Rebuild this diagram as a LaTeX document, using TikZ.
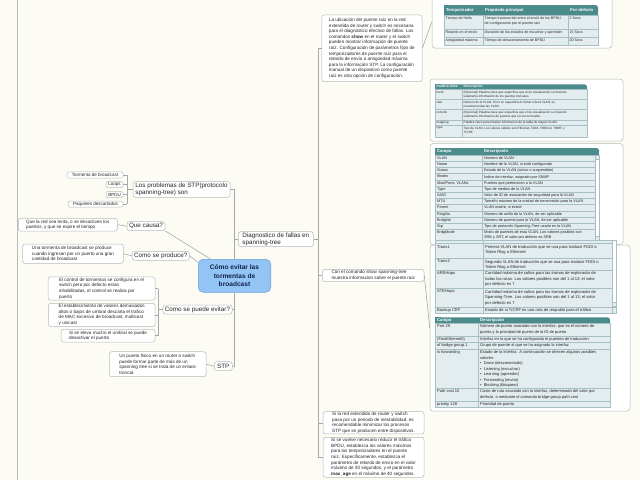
\documentclass[tikz,border=0pt]{standalone}
\usepackage{fontspec}
\setmainfont{Liberation Sans}
\newcommand\myfs[2]{\fontsize{#1}{#2}\selectfont}
\definecolor{bgc}{HTML}{FCFCF4}
\definecolor{lnkc}{HTML}{A8A8A8}
\definecolor{bordc}{HTML}{B8B8B8}
\definecolor{cenfill}{HTML}{92C5F5}
\definecolor{cenbord}{HTML}{6FA2D6}
\definecolor{cenText}{HTML}{10204A}
\definecolor{thead}{HTML}{4C8B8C}
\definecolor{trowc}{HTML}{E3ECEE}
\definecolor{tlinec}{HTML}{A7BFC2}
\definecolor{txt}{HTML}{262626}
\begin{document}
\begin{tikzpicture}[x=1pt,y=-1pt,
  topic/.style={draw=bordc, fill=white, rounded corners=2.5pt, line width=0.5pt, inner xsep=2pt, inner ysep=0pt, align=left, text=txt, font=\myfs{6.3}{7.3}},
  note/.style={topic, font=\myfs{4.6}{5.6}},
  leaf/.style={draw=bordc, fill=white, rounded corners=1.5pt, line width=0.5pt, inner sep=0pt, align=center, text=txt, font=\myfs{4.5}{5}},
  lnk/.style={draw=lnkc, line width=0.6pt},
  central/.style={draw=cenbord, fill=cenfill, rounded corners=5pt, line width=0.6pt, align=center, text=cenText, font=\myfs{6.6}{8.3}\bfseries, inner sep=0pt},
  cell/.style={anchor=north west, inner sep=0pt, align=left, text=txt},
  hcell/.style={anchor=west, inner sep=0pt, text=white},
  frame/.style={draw=bordc, fill=white, rounded corners=3pt, line width=0.5pt, inner sep=0pt},
  tl/.style={draw=tlinec, line width=0.4pt},
]
\useasboundingbox (0,0) rectangle (640,480);
\fill[bgc] (0,0) rectangle (640,480);
\draw[bordc, line width=0.6pt] (17,0) -- (17,480);

% ---------------- central
\node[central, minimum width=72.4pt, minimum height=33pt] (cen) at (234.5,275.8) {Cómo evitar las\\tormentas de\\broadcast};

% ---------------- left side
\node[topic, minimum width=97pt, minimum height=15.6pt] (prob) at (181.5,189.5) {Los problemas de STP(protocolo\\spanning-tree) son};
\node[leaf, minimum width=56pt, minimum height=6.2pt] (tb) at (95,175) {Tormenta de broadcast};
\node[leaf, minimum width=17pt, minimum height=6pt] (loops) at (114.5,184.5) {Loops};
\node[leaf, minimum width=17pt, minimum height=6pt] (bpdu) at (114.5,194.5) {BPDU};
\node[leaf, minimum width=55pt, minimum height=6pt] (paq) at (95.5,204) {Paquetes descartados};
\coordinate (bkA) at (127,189.5);
\draw[lnk] (prob.west) -- (bkA);
\foreach \n in {tb,loops,bpdu,paq} \draw[lnk] (\n.east) -- (bkA |- \n.east);
\draw[lnk] (bkA |- tb.east) -- (bkA |- paq.east);
\draw[lnk] (cen.north) |- (prob.east);

\node[topic, minimum width=38pt, minimum height=9pt] (causa) at (146,226.2) {Que causa?};
\node[note, minimum width=99pt, minimum height=12.7pt] (causaT) at (67.8,224.7) {Que la red sea lenta, o se desactiven los\\puertos, y que se expire el tiempo};
\draw[lnk] (causaT.east) -- (causa.west);
\draw[lnk] (causa.south east) -- (cen.145);

\node[topic, minimum width=55pt, minimum height=9pt] (prod) at (160.8,255.8) {Como se produce?};
\node[note, minimum width=100.6pt, minimum height=19.3pt] (prodT) at (73,253.7) {Una tormenta de broadcast se produce\\cuando ingresan por un puerto una gran\\cantidad de broadcast};
\draw[lnk] (prodT.east) -- (prod.west);
\draw[lnk] (prod.east) -- (cen.160);

\node[topic, minimum width=68.4pt, minimum height=9pt] (evit) at (197.5,309.5) {Como se puede evitar?};
\node[note, minimum width=107pt, minimum height=23.3pt] (ev1) at (101.5,288.5) {El control de tormentas se configura en el\\switch pero por defecto estan\\inhabilitadas, el control se realiza por\\puerto};
\node[note, minimum width=106.7pt, minimum height=23.4pt] (ev2) at (101.7,315) {El establecimiento de valores demasiados\\altos o bajos de umbral descarta el trafico\\de MAC excesivo de broadcast, multicast\\y unicast};
\node[note, minimum width=94pt, minimum height=12.7pt] (ev3) at (108,335.7) {Si se eleva mucho el umbral se puede\\desactivar el puerto};
\coordinate (bkB) at (158,309.5);
\draw[lnk] (bkB |- ev1.east) -- (bkB |- ev3.east);
\foreach \n in {ev1,ev2,ev3} \draw[lnk] (\n.east) -- (bkB |- \n.east);
\draw[lnk] (bkB) -- (evit.west);

\node[topic, minimum width=18pt, minimum height=9pt] (stp) at (223.3,366.2) {STP};
\node[note, minimum width=96.7pt, minimum height=25pt] (stpT) at (157.7,364.2) {Un puerto fisico en un router o switch\\puede formar parte de más de un\\spanning tree si se trata de un enlace\\troncal.};
\draw[lnk] (stpT.east) -- (stp.west);
\draw[lnk] (cen.south) |- (evit.east);
\draw[lnk] (cen.south) |- (stp.east);

% ---------------- right side
\node[topic, minimum width=75pt, minimum height=15pt] (diag) at (275.8,239.2) {Diagnostico de fallas en\\spanning-tree};
\draw[lnk] (cen.north) |- (diag.west);

\node[note, minimum width=100.3pt, minimum height=66.7pt] (r1) at (371.9,48.3) {La ubicación del puente raíz en la red\\extendida de router y switch es necesaria\\para el diagnóstico efectivo de fallas. Los\\comandos \textbf{show} en el router y el switch\\pueden mostrar información de puente\\raíz. Configuración de parámetros fijos de\\temporizadores de puente raíz para el\\retardo de envío o antigüedad máxima\\para la información STP. La configuración\\manual de un dispositivo como puente\\raíz es otra opción de configuración.};
\node[note, minimum width=101.7pt, minimum height=12.4pt] (cmd) at (373.2,275.5) {Con el comando show spanning-tree\\muestra informacion sobre el puente raiz};
\node[note, minimum width=101pt, minimum height=22.3pt] (r3) at (373.5,422.8) {Si la red extendida de router y switch\\pasa por un periodo de inestabilidad, es\\recomendable minimizar los procesos\\STP que se producen entre dispositivos.};
\node[note, minimum width=101pt, minimum height=40pt] (r4) at (373.5,457.3) {Si se vuelve necesario reducir el tráfico\\BPDU, establezca los valores máximos\\para los temporizadores en el puente\\raíz. Específicamente, establezca el\\parámetro de retardo de envío en el valor\\máximo de 30 segundos, y el parámetro\\\textbf{max\_age} en el máximo de 40 segundos.};
\coordinate (bkC) at (318,239.2);
\draw[lnk] (diag.east) -- (bkC);
\draw[lnk] (bkC |- r1.west) -- (bkC |- r4.west);
\foreach \n in {r1,cmd,r3,r4} \draw[lnk] (bkC |- \n.west) -- (\n.west);

% ---------------- frames (images)
\node[frame, minimum width=180pt, minimum height=52pt] (f1) at (522,22) {};
\node[frame, minimum width=193pt, minimum height=62pt] (f2) at (526.5,110) {};
\node[frame, minimum width=193pt, minimum height=101pt] (f3) at (526.5,194) {};
\node[frame, minimum width=200pt, minimum height=166pt] (f4) at (530,328) {};
\draw[lnk] (r1.east) -- (f1.west);
\draw[lnk] (cmd.east) -- (f4.west);

% ---------------- table 1
\fill[trowc] (444,15) rectangle (598,45);
\fill[thead, rounded corners=2.5pt] (444,5) rectangle (598,15);
\fill[thead] (444,5) rectangle (450,15);
\fill[thead] (444,10) rectangle (598,15);
\draw[tl] (444,15) rectangle (598,45);
\draw[tl] (444,29.3) -- (598,29.3) (444,36.7) -- (598,36.7) (483,15) -- (483,45) (568,15) -- (568,45);
\begin{scope}[every node/.append style={font=\myfs{4.2}{5}\bfseries}]
\node[hcell] (t1h1) at (446,10) {Temporizador};
\node[hcell] (t1h2) at (485,10) {Propósito principal};
\node[hcell] (t1h3) at (570,10) {Por defecto};
\end{scope}
\begin{scope}[every node/.append style={font=\myfs{3.6}{5.3}}]
\node[cell] (t1a) at (445.5,16.8) {Tiempo de Hello};
\node[cell] (t1b) at (484.5,16.8) {Tiempo transcurrido entre el envío de los BPDU\\de configuración por el puente raíz};
\node[cell] (t1c) at (569.5,16.8) {2 Secs};
\node[cell] (t1d) at (445.5,31) {Retardo en el envío};
\node[cell] (t1e) at (484.5,31) {Duración de los estados de escuchar y aprender};
\node[cell] (t1f) at (569.5,31) {15 Secs};
\node[cell] (t1g) at (445.5,38.6) {Antigüedad máxima};
\node[cell] (t1h) at (484.5,38.6) {Tiempo de almacenamiento de BPDU};
\node[cell] (t1i) at (569.5,38.6) {20 Secs};
\end{scope}

% ---------------- table 2
\fill[trowc] (435,89.3) rectangle (587,137.3);
\fill[thead, rounded corners=2.5pt] (435,84.3) rectangle (587,89.3);
\fill[thead] (435,84.3) rectangle (441,89.3);
\fill[thead] (435,87) rectangle (587,89.3);
\draw[tl] (435,89.3) rectangle (587,137.3);
\draw[tl] (435,99.3) -- (587,99.3) (435,109.3) -- (587,109.3) (435,120) -- (587,120) (435,125.3) -- (587,125.3) (462,89.3) -- (462,137.3);
\begin{scope}[every node/.append style={font=\myfs{3.3}{4}\bfseries}]
\node[hcell] (t2h1) at (436.5,86.8) {Palabra clave};
\node[hcell] (t2h2) at (463.5,86.8) {Descripción};
\end{scope}
\begin{scope}[every node/.append style={font=\myfs{3.1}{4.4}}]
\node[cell] (t2a) at (436.5,90.6) {trunk};
\node[cell] (t2b) at (463.5,90.6) {(Opcional) Palabra clave que especifica que en la visualización se muestre\\solamente información de los puertos troncales.};
\node[cell] (t2c) at (436.5,100.6) {vlan};
\node[cell] (t2d) at (463.5,100.6) {Número de la VLAN. Si no se especifica el número de la VLAN, se\\muestran todas las VLAN.};
\node[cell] (t2e) at (436.5,110.8) {notrunk};
\node[cell] (t2f) at (463.5,110.8) {(Opcional) Palabra clave que especifica que en la visualización se muestre\\solamente información de puertos que no son troncales.};
\node[cell] (t2g) at (436.5,121.3) {mapping};
\node[cell] (t2h) at (463.5,121.3) {Palabra clave para mostrar información de la tabla de mapeo VLAN.};
\node[cell] (t2i) at (436.5,126.7) {type};
\node[cell] (t2j) at (463.5,126.7) {Tipo de VLAN. Los valores válidos son Ethernet, FDDI, FDDInet, TrBRF y\\TrCRF.};
\end{scope}

% ---------------- table 3a
\fill[trowc] (435,155) rectangle (595,240);
\fill[thead, rounded corners=2.5pt] (435,148) rectangle (599,155);
\fill[thead] (435,148) rectangle (441,155);
\fill[thead] (435,152) rectangle (599,155);
\draw[tl] (435,155) rectangle (595,240);
\foreach \k in {1,...,12} \draw[tl] (435,155+6.2*\k) -- (595,155+6.2*\k);
\draw[tl] (482,155) -- (482,240);
\draw[tl, fill=white] (595,155) rectangle (599,240);
\draw[tl, fill=trowc] (595,155) rectangle (599,159);
\draw[tl, fill=trowc] (595,236) rectangle (599,240);
\begin{scope}[every node/.append style={font=\myfs{4.2}{5}\bfseries}]
\node[hcell] (t3h1) at (437,151.5) {Campo};
\node[hcell] (t3h2) at (484,151.5) {Descripción};
\end{scope}
\begin{scope}[every node/.append style={font=\myfs{3.8}{4.8}}]
\foreach \k/\a/\b in {0/VLAN/Número de VLAN, 1/Name/{Nombre de la VLAN, si está configurado}, 2/Status/Estado de la VLAN (activo o suspendido), 3/Ifindex/{Índice de interfaz, asignado por SNMP}, 4/{Mod/Ports, VLANs}/Puertos que pertenecen a la VLAN, 5/Type/Tipo de medios de la VLAN, 6/SAID/Valor de ID de asociación de seguridad para la VLAN, 7/MTU/Tamaño máximo de la unidad de transmisión para la VLAN, 8/Parent/{VLAN madre, si existe}, 9/RingNo/{Número de anillo de la VLAN, de ser aplicable}, 10/BridgNo/{Número de puente para la VLAN, de ser aplicable}, 11/Stp/Tipo de protocolo Spanning-Tree usado en la VLAN}
{
  \node[cell] at (437,156.3+6.2*\k) {\a};
  \node[cell] at (484,156.3+6.2*\k) {\b};
}
\node[cell] (t3a) at (437,230.7) {BrdgMode};
\node[cell] (t3b) at (484,230.7) {Modo de puentes de esta VLAN. Los valores posibles son\\SRB y SRT; el valor por defecto es SRB};
\end{scope}

% ---------------- table 3b
\fill[trowc] (435,240.5) rectangle (612,312.7);
\draw[tl] (435,240.5) rectangle (612,312.7);
\draw[tl] (435,242.7) -- (612,242.7) (435,258.3) -- (612,258.3) (435,270) -- (612,270) (435,288.3) -- (612,288.3) (435,306.7) -- (612,306.7) (483,240.5) -- (483,312.7);
\draw[tl, fill=white] (612,240.5) rectangle (616,312.7);
\draw[tl, fill=trowc] (612,302) rectangle (616,306);
\draw[tl, fill=trowc] (612,307) rectangle (616,312.7);
\begin{scope}[every node/.append style={font=\myfs{4.1}{5.6}}]
\node[cell] (t3c) at (437,245) {Trans1};
\node[cell] (t3d) at (485,245) {Primera VLAN de traducción que se usa para traducir FDDI o\\Token Ring a Ethernet};
\node[cell] (t3e) at (437,259.8) {Trans2};
\node[cell] (t3f) at (485,259.8) {Segunda VLAN de traducción que se usa para traducir FDDI o\\Token Ring a Ethernet};
\node[cell] (t3g) at (437,271.5) {AREHops};
\node[cell] (t3h) at (485,271.5) {Cantidad máxima de saltos para las tramas de explorador de\\todas las rutas. Los valores posibles son del 1 al 13; el valor\\por defecto es 7};
\node[cell] (t3i) at (437,289.8) {STEHops};
\node[cell] (t3j) at (485,289.8) {Cantidad máxima de saltos para las tramas de explorador de\\Spanning-Tree. Los valores posibles son del 1 al 13; el valor\\por defecto es 7};
\node[cell] (t3k) at (437,308) {Backup CRF};
\node[cell] (t3l) at (485,308) {Estado de si TrCRF es una ruta de respaldo para el tráfico};
\end{scope}

% ---------------- table 4
\fill[trowc] (435,323.3) rectangle (610,407);
\fill[thead, rounded corners=2.5pt] (435,317.3) rectangle (610,323.3);
\fill[thead] (435,317.3) rectangle (441,323.3);
\fill[thead] (435,320.5) rectangle (610,323.3);
\draw[tl] (435,323.3) rectangle (610,407);
\draw[tl] (435,336) -- (610,336) (435,342.3) -- (610,342.3) (435,349) -- (610,349) (435,388.3) -- (610,388.3) (435,400.7) -- (610,400.7) (478,323.3) -- (478,407);
\begin{scope}[every node/.append style={font=\myfs{4.2}{5}\bfseries}]
\node[hcell] (t4h1) at (437,320.3) {Campo};
\node[hcell] (t4h2) at (480,320.3) {Descripción};
\end{scope}
\begin{scope}[every node/.append style={font=\myfs{4}{5.5}}]
\node[cell] (t4a) at (437,324.6) {Port 29};
\node[cell] (t4b) at (480,324.6) {Número de puerto asociado con la interfaz, que es el número de\\puerto y la prioridad de puerto de la ID de puerto};
\node[cell] (t4c) at (437,337.4) {(FastEthernet0)};
\node[cell] (t4d) at (480,337.4) {Interfaz en la que se ha configurado el puenteo de traducción};
\node[cell] (t4e) at (437,343.8) {of bridge group 1};
\node[cell] (t4f) at (480,343.8) {Grupo de puente al que se ha asignado la interfaz};
\node[cell] (t4g) at (437,350.4) {is forwarding};
\node[cell] (t4h) at (480,350.4) {Estado de la interfaz. A continuación se ofrecen algunos posibles\\valores:\\ • \ Down (desconectado)\\ • \ Listening (escuchar)\\ • \ Learning (aprender)\\ • \ Forwarding (enviar)\\ • \ Blocking (bloquear)};
\node[cell] (t4i) at (437,389.7) {Path cost 10};
\node[cell] (t4j) at (480,389.7) {Costo de ruta asociado con la interfaz, determinado del valor por\\defecto, o mediante el comando bridge-group path cost};
\node[cell] (t4k) at (437,402.1) {priority 128};
\node[cell] (t4l) at (480,402.1) {Prioridad de puerto};
\end{scope}
\end{tikzpicture}
\end{document}
